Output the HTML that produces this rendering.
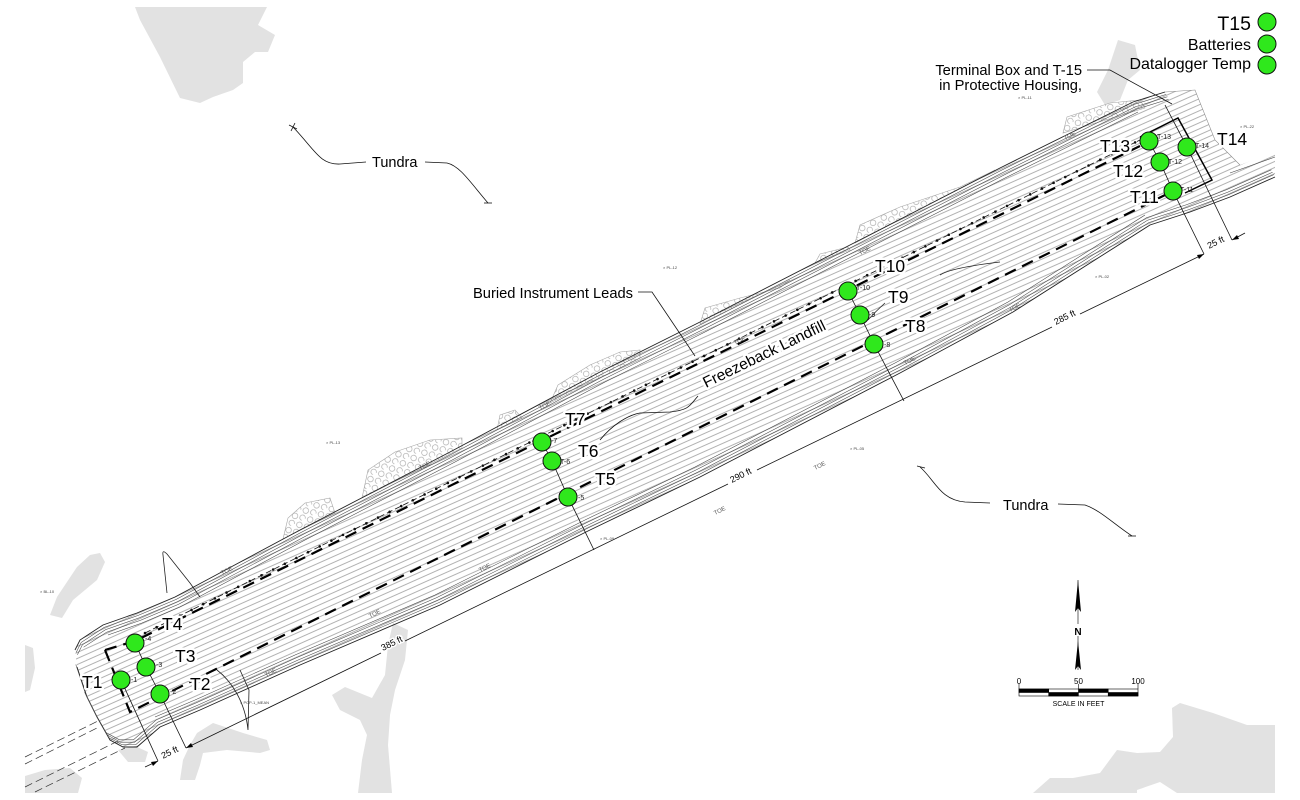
<!DOCTYPE html>
<html><head><meta charset="utf-8"><style>
html,body{margin:0;padding:0;background:#fff;}
svg{display:block;}
text{font-family:"Liberation Sans",Arial,sans-serif;}
.halo{paint-order:stroke;stroke:#fff;stroke-width:5px;stroke-linejoin:round;}
</style></head><body>
<svg width="1300" height="800" viewBox="0 0 1300 800" xmlns="http://www.w3.org/2000/svg">
<defs>
<pattern id="h1" width="30" height="5.5" patternUnits="userSpaceOnUse" patternTransform="rotate(-24)">
 <line x1="0" y1="0.5" x2="30" y2="0.5" stroke="#666" stroke-width="0.55"/>
</pattern>
<pattern id="rocks" width="12" height="10" patternUnits="userSpaceOnUse" patternTransform="rotate(-26)">
 <circle cx="3" cy="3" r="2.8" fill="none" stroke="#a5a5a5" stroke-width="0.6"/>
 <circle cx="9" cy="8" r="2.8" fill="none" stroke="#a5a5a5" stroke-width="0.6"/>
</pattern>
<clipPath id="band"><polygon points="75,650 80,640 103,625 137,613 175,597 300,530 450,452 600,372 700,322 850,245 1000,168 1133,102 1165,92 1195,90 1215,140 1240,165 1275,152 1275,177 1230,197 1190,212 1150,225 1013,312 900,373 700,477 590,530 440,605 300,665 200,710 160,727 137,747 123,747 110,740 97,717 87,697 77,667"/></clipPath>
<clipPath id="frame"><rect x="25" y="7" width="1250" height="786"/></clipPath>
</defs>

<!-- gray blobs (water) -->
<g fill="#e2e2e2" clip-path="url(#frame)">
 <polygon points="135,7 267,7 258,25 275,35 268,52 255,52 243,62 243,83 233,90 213,97 200,103 180,98 160,57 140,20"/>
 <polygon points="100,553 105,562 97,580 73,600 62,618 50,615 57,597 77,567 90,555"/>
 <polygon points="25,645 33,648 35,668 30,690 25,692"/>
 <polygon points="118,750 135,746 148,752 145,762 128,762"/>
 <polygon points="25,776 45,770 70,768 82,778 78,793 25,793"/>
 <polygon points="180,780 183,760 190,745 197,733 213,723 243,733 267,740 270,750 260,753 227,750 203,753 200,765 195,780"/>
 <polygon points="393,623 408,630 405,660 395,690 390,715 388,745 392,793 358,793 362,760 367,735 360,720 340,710 332,695 345,687 372,698 385,675 388,645"/>
 <polygon points="1118,40 1135,45 1140,70 1128,80 1120,100 1105,105 1097,92 1108,70"/>
 <polygon points="1033,793 1050,778 1073,778 1100,773 1117,750 1137,753 1160,752 1173,737 1172,708 1180,703 1213,713 1247,725 1275,725 1275,793 1177,793 1160,782 1137,790 1137,793"/>
</g>

<!-- riprap -->
<g fill="url(#rocks)" stroke="#a8a8a8" stroke-width="0.6">
 <polygon points="283,539 288,518 305,503 330,498 335,513"/>
 <polygon points="362,498 368,470 395,452 430,440 462,438 462,448"/>
 <polygon points="497,430 500,415 515,410 522,418"/>
 <polygon points="550,403 558,385 590,365 620,352 640,350 640,358"/>
 <polygon points="700,324 705,308 740,298 780,288 790,280"/>
 <polygon points="815,263 820,254 848,247 850,250"/>
 <polygon points="855,243 860,225 900,207 960,187 995,170"/>
 <polygon points="1063,133 1067,117 1110,103 1140,100 1145,108"/>
</g>

<!-- band hatch -->
<rect x="0" y="0" width="1300" height="800" fill="url(#h1)" clip-path="url(#band)"/>

<!-- edge contours -->
<g fill="none" stroke="#444" stroke-width="0.55">
 <polyline points="75,650 80,640 103,625 137,613 175,597 300,530 450,452 600,372 700,322 850,245 1000,168 1133,102 1165,92" stroke-width="0.9" stroke="#222"/>
 <polyline transform="translate(1.2,2.4)" points="75,650 80,640 103,625 137,613 175,597 300,530 450,452 600,372 700,322 850,245 1000,168 1133,102 1165,92"/>
 <polyline transform="translate(2.4,4.8)" points="75,650 80,640 103,625 137,613 175,597 300,530 450,452 600,372 700,322 850,245 1000,168 1133,102 1165,92"/>
 <polyline transform="translate(3.6,7.2)" points="80,640 103,625 137,613 175,597 300,530 450,452 600,372 700,322 850,245 1000,168 1133,102 1165,92"/>
 <polyline transform="translate(5,10)" points="103,625 137,613 175,597 300,530 450,452 600,372 700,322 850,245 1000,168 1133,102"/>
 <polyline points="77,667 87,697 97,717 110,740 123,747 137,747 160,727 200,710 300,665 440,605 590,530 700,477 900,373 1013,312 1150,225 1190,212 1230,197 1275,177" stroke-width="0.9" stroke="#222"/>
 <polyline transform="translate(-1.2,-2.4)" points="77,667 87,697 97,717 110,740 123,747 137,747 160,727 200,710 300,665 440,605 590,530 700,477 900,373 1013,312 1150,225 1190,212 1230,197 1275,177"/>
 <polyline transform="translate(-2.4,-4.8)" points="87,697 97,717 110,740 123,747 137,747 160,727 200,710 300,665 440,605 590,530 700,477 900,373 1013,312 1150,225 1190,212 1230,197 1275,177"/>
 <polyline transform="translate(-3.6,-7.2)" points="110,740 123,747 137,747 160,727 200,710 300,665 440,605 590,530 700,477 900,373 1013,312 1150,225 1190,212 1230,197 1275,177"/>
 <polyline transform="translate(-5,-10)" points="160,727 200,710 300,665 440,605 590,530 700,477 900,373 1013,312 1150,225"/>
 <polyline points="1230,173 1275,157"/>
 <polyline points="1165,92 1195,90 1215,140 1240,165" stroke="#888"/>
</g>

<!-- road dashed lines lower-left -->
<g fill="none" stroke="#333" stroke-width="0.7" stroke-dasharray="8 4">
 <line x1="25" y1="757" x2="100" y2="720"/>
 <line x1="25" y1="764" x2="97" y2="728"/>
 <line x1="25" y1="787" x2="120" y2="740"/>
 <line x1="35" y1="792" x2="125" y2="748"/>
</g>

<!-- thin curves -->
<g fill="none" stroke="#222" stroke-width="0.8">
 <path d="M167,593 L163,555 Q162,549 167,554 L190,583 L200,597"/>
 <path d="M217,670 C230,680 245,700 248,730 L249,690 L240,670"/>
 <path d="M940,275 Q950,268 1000,262"/>
 <path d="M885,303 Q875,312 868,320"/>
</g>

<!-- leads line -->
<line x1="145" y1="633" x2="1140" y2="140" stroke="#111" stroke-width="0.8" stroke-dasharray="6 3"/>
<line x1="145" y1="633" x2="1140" y2="140" stroke="#111" stroke-width="2.6" stroke-dasharray="0 13" stroke-linecap="round"/>

<!-- heavy dashed cell lines -->
<g fill="none" stroke="#000" stroke-width="2.2" stroke-dasharray="12 7">
 <polyline points="105,650 135,641 1140,146"/>
 <polyline points="105,650 130,712 1175,190"/>
</g>
<polyline points="1140,137 1178,118 1212,180 1185,193" fill="none" stroke="#000" stroke-width="1.5"/>

<!-- extension lines / dimension -->
<g fill="none" stroke="#111" stroke-width="0.8">
 <polyline points="135,643 146,667 160,694 186,748"/>
 <polyline points="121,680 158,761"/>
 <polyline points="542,442 552,461 568,497 594,550"/>
 <polyline points="848,291 860,315 874,344 904,401"/>
 <polyline points="1149,141 1160,162 1173,191 1204,254"/>
 <polyline points="1165,105 1187,147 1232,240"/>
 <line x1="186" y1="748" x2="381" y2="653"/>
 <line x1="405" y1="641" x2="728" y2="484"/>
 <line x1="757" y1="470" x2="1052" y2="327"/>
 <line x1="1080" y1="314" x2="1204" y2="254"/>
 <line x1="145" y1="767" x2="158" y2="761"/>
 <line x1="1232" y1="240" x2="1245" y2="233"/>
 <path d="M293,127 C315,150 320,165 340,164 L366,162"/>
 <path d="M289,125 L297,129 M291,131 L295,123"/>
 <path d="M425,162 L447,163 C460,166 470,182 488,203"/>
 <path d="M484,203 L492,203"/>
 <path d="M920,467 C935,480 940,500 965,502 L990,503"/>
 <path d="M917,466 L925,468"/>
 <path d="M1058,504 L1085,505 C1100,510 1115,525 1132,536"/>
 <path d="M1128,536 L1136,536"/>
 <path d="M638,292 L652,292 L695,356"/>
 <path d="M698,396 C690,405 690,410 670,412 L640,413 C628,415 612,425 600,440"/>
 <path d="M1087,70 L1110,70 L1172,104"/>
</g>
<g fill="#000">
 <polygon points="158,761 151,762 153,766"/>
 <polygon points="186,748 193,747 191,743"/>
 <polygon points="1204,254 1197,255 1199,259"/>
 <polygon points="1232,240 1239,239 1237,235"/>
</g>

<!-- TOE labels & tiny survey text -->
<g font-size="6" fill="#555">
 <text transform="translate(222,575) rotate(-26)">TOE</text>
 <text transform="translate(420,470) rotate(-26)">TOE</text>
 <text transform="translate(540,410) rotate(-26)">TOE</text>
 <text transform="translate(735,345) rotate(-26)">TOE</text>
 <text transform="translate(860,255) rotate(-26)">TOE</text>
 <text transform="translate(1065,140) rotate(-26)">TOE</text>
 <text transform="translate(715,515) rotate(-26)">TOE</text>
 <text transform="translate(1010,312) rotate(-26)">TOE</text>
 <text transform="translate(480,572) rotate(-26)">TOE</text>
 <text transform="translate(815,470) rotate(-26)">TOE</text>
 <text transform="translate(266,677) rotate(-26)">TOE</text>
 <text transform="translate(905,365) rotate(-26)">TOE</text>
 <text transform="translate(370,618) rotate(-26)">TOE</text>
</g>
<g font-size="4" fill="#444">
 <text x="40" y="593">× BL-10</text>
 <text x="326" y="444">× PL-13</text>
 <text x="663" y="269">× PL-12</text>
 <text x="1018" y="99">× PL-11</text>
 <text x="240" y="704">× PCP-1_MEAN</text>
 <text x="1095" y="278">× PL-02</text>
 <text x="600" y="540">× PL-09</text>
 <text x="850" y="450">× PL-05</text>
 <text x="1240" y="128">× PL-22</text>
</g>

<!-- green instrument circles -->
<g fill="#2fe81c" stroke="#111" stroke-width="1">
 <circle cx="121" cy="680" r="9"/>
 <circle cx="160" cy="694" r="9"/>
 <circle cx="146" cy="667" r="9"/>
 <circle cx="135" cy="643" r="9"/>
 <circle cx="568" cy="497" r="9"/>
 <circle cx="552" cy="461" r="9"/>
 <circle cx="542" cy="442" r="9"/>
 <circle cx="874" cy="344" r="9"/>
 <circle cx="860" cy="315" r="9"/>
 <circle cx="848" cy="291" r="9"/>
 <circle cx="1173" cy="191" r="9"/>
 <circle cx="1160" cy="162" r="9"/>
 <circle cx="1149" cy="141" r="9"/>
 <circle cx="1187" cy="147" r="9"/>
 <circle cx="1267" cy="22" r="9"/>
 <circle cx="1267" cy="44" r="9"/>
 <circle cx="1267" cy="65" r="9"/>
</g>

<!-- small circle tags -->
<g font-size="7" fill="#222">
 <text x="131" y="682">-1</text>
 <text x="170" y="694">-2</text>
 <text x="156" y="667">-3</text>
 <text x="145" y="641">-4</text>
 <text x="578" y="500">-5</text>
 <text x="560" y="464">T-6</text>
 <text x="551" y="443">-7</text>
 <text x="884" y="347">-8</text>
 <text x="869" y="317">-9</text>
 <text x="856" y="290">T-10</text>
 <text x="1180" y="192">T-11</text>
 <text x="1168" y="164">T-12</text>
 <text x="1157" y="139">T-13</text>
 <text x="1195" y="148">T-14</text>
</g>

<!-- T labels -->
<g font-size="17.5" fill="#000" class="halo">
 <text x="82" y="688">T1</text>
 <text x="190" y="690">T2</text>
 <text x="175" y="662">T3</text>
 <text x="162" y="630">T4</text>
 <text x="595" y="485">T5</text>
 <text x="578" y="457">T6</text>
 <text x="565" y="425">T7</text>
 <text x="905" y="332">T8</text>
 <text x="888" y="303">T9</text>
 <text x="875" y="272">T10</text>
 <text x="1130" y="203">T11</text>
 <text x="1113" y="177">T12</text>
 <text x="1100" y="152">T13</text>
 <text x="1217" y="145">T14</text>
</g>

<!-- legend -->
<g fill="#000" text-anchor="end">
 <text x="1251" y="30" font-size="19.5">T15</text>
 <text x="1251" y="50" font-size="16">Batteries</text>
 <text x="1251" y="69" font-size="16">Datalogger Temp</text>
 <text x="1082" y="75" font-size="14.7">Terminal Box and T-15</text>
 <text x="1082" y="90" font-size="14.7">in Protective Housing,</text>
</g>

<!-- annotations -->
<g fill="#000" font-size="14.5">
 <text x="372" y="167">Tundra</text>
 <text x="1003" y="510">Tundra</text>
 <text x="473" y="298" font-size="14.7">Buried Instrument Leads</text>
 <text transform="translate(706,388) rotate(-26)" font-size="15.5" class="halo">Freezeback Landfill</text>
</g>

<!-- dimension labels -->
<g font-size="9" fill="#000" text-anchor="middle" class="halo" style="stroke-width:3px">
 <text transform="translate(393,646) rotate(-26)">385 ft</text>
 <text transform="translate(742,478) rotate(-26)">290 ft</text>
 <text transform="translate(1066,320) rotate(-26)">285 ft</text>
 <text transform="translate(171,755) rotate(-26)">25 ft</text>
 <text transform="translate(1217,245) rotate(-26)">25 ft</text>
</g>

<!-- north arrow -->
<line x1="1078" y1="580" x2="1078" y2="670" stroke="#000" stroke-width="0.6"/>
<polygon points="1078,580 1081,612 1078,608 1075,612" fill="#000"/>
<polygon points="1078,641 1081,670 1078,666 1075,670" fill="#000"/>
<rect x="1073" y="624" width="10" height="12" fill="#fff"/>
<text x="1078" y="635" font-size="10" font-weight="bold" text-anchor="middle" fill="#000">N</text>

<!-- scale bar -->
<g stroke="#000" stroke-width="0.6">
 <rect x="1019" y="689" width="119" height="7" fill="#fff"/>
 <rect x="1019" y="689" width="29.7" height="3.5" fill="#000"/>
 <rect x="1078.5" y="689" width="29.7" height="3.5" fill="#000"/>
 <rect x="1048.7" y="692.5" width="29.7" height="3.5" fill="#000"/>
 <rect x="1108.2" y="692.5" width="29.8" height="3.5" fill="#000"/>
 <line x1="1019" y1="684" x2="1019" y2="689"/>
 <line x1="1078.5" y1="684" x2="1078.5" y2="689"/>
 <line x1="1138" y1="684" x2="1138" y2="689"/>
</g>
<g font-size="8" fill="#000" text-anchor="middle">
 <text x="1019" y="684">0</text>
 <text x="1078.5" y="684">50</text>
 <text x="1138" y="684">100</text>
 <text x="1078.5" y="706" font-size="7">SCALE IN FEET</text>
</g>
</svg>
</body></html>
